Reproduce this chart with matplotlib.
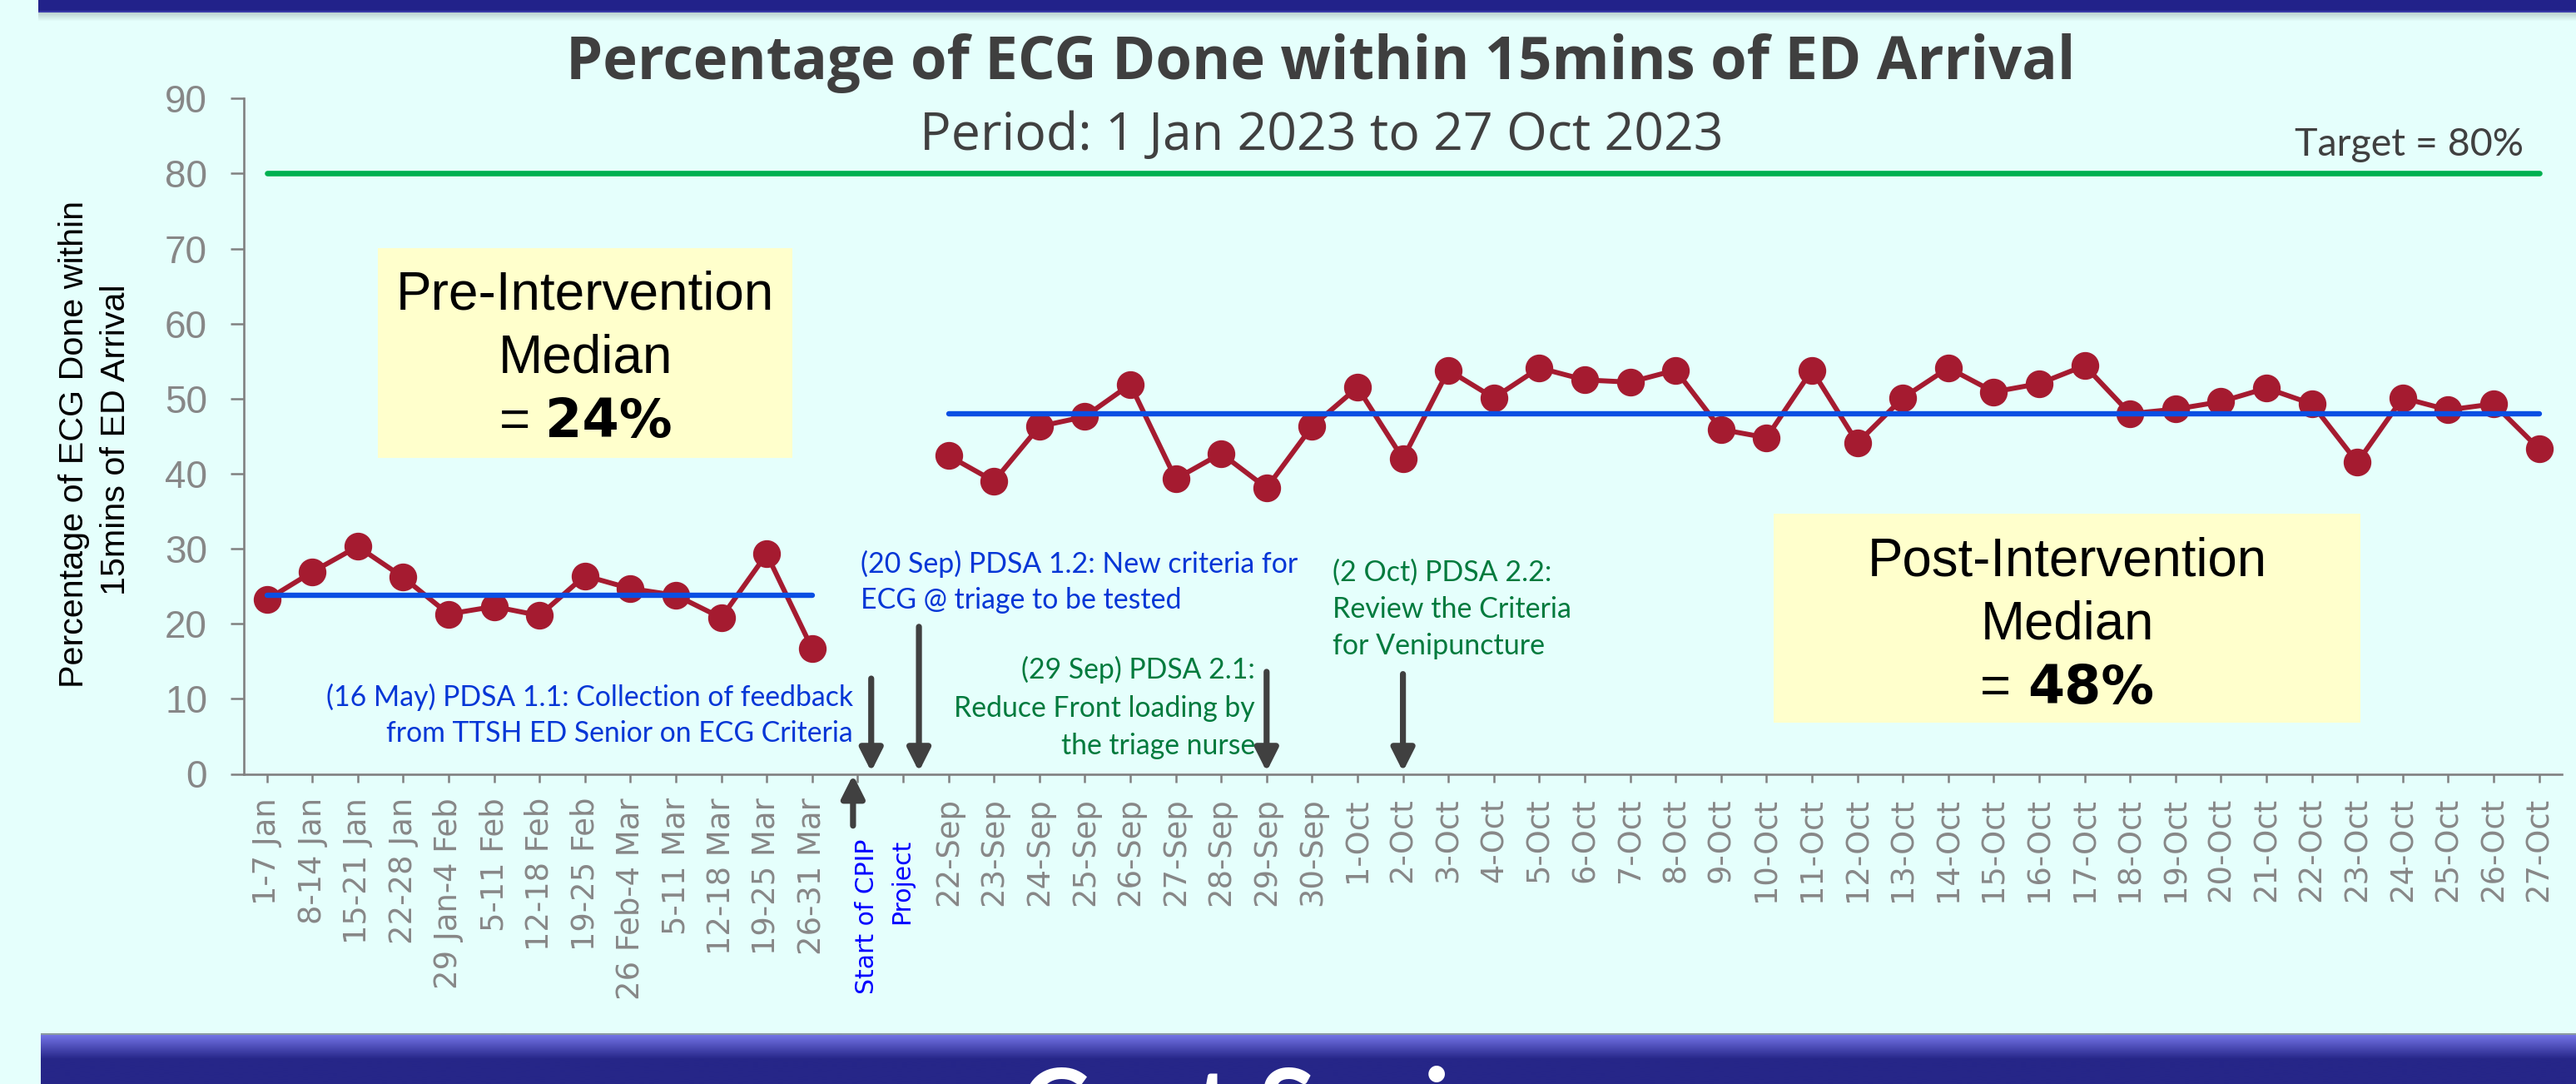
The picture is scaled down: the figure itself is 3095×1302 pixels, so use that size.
import numpy as np
import matplotlib
matplotlib.use('Agg')
import matplotlib.pyplot as plt
from matplotlib.patches import Rectangle

# ---------------- data ----------------
pre_labels = ['1-7 Jan', '8-14 Jan', '15-21 Jan', '22-28 Jan', '29 Jan-4 Feb', '5-11 Feb',
              '12-18 Feb', '19-25 Feb', '26 Feb-4 Mar', '5-11 Mar', '12-18 Mar', '19-25 Mar',
              '26-31 Mar']
pre_values = [23.2, 26.9, 30.3, 26.2, 21.3, 22.3, 21.1, 26.4, 24.7, 23.8, 20.8, 29.3, 16.7]
gap_labels = ['', '']
post_labels = ['22-Sep', '23-Sep', '24-Sep', '25-Sep', '26-Sep', '27-Sep', '28-Sep', '29-Sep',
               '30-Sep', '1-Oct', '2-Oct', '3-Oct', '4-Oct', '5-Oct', '6-Oct', '7-Oct', '8-Oct',
               '9-Oct', '10-Oct', '11-Oct', '12-Oct', '13-Oct', '14-Oct', '15-Oct', '16-Oct',
               '17-Oct', '18-Oct', '19-Oct', '20-Oct', '21-Oct', '22-Oct', '23-Oct', '24-Oct',
               '25-Oct', '26-Oct', '27-Oct']
post_values = [42.4, 39.0, 46.3, 47.6, 51.9, 39.3, 42.7, 38.1, 46.3,
               51.5, 42.0, 53.8, 50.1, 54.1, 52.5, 52.2, 53.8, 45.9,
               44.8, 53.8, 44.1, 50.1, 54.1, 50.9, 52.0, 54.4, 48.0, 48.6,
               49.6, 51.4, 49.3, 41.5, 50.1, 48.5, 49.3, 43.3]
target_value = 80
pre_median = 23.8
post_median = 48.0
y_ticks = [0, 10, 20, 30, 40, 50, 60, 70, 80, 90]

categories = pre_labels + gap_labels + post_labels

# ---------------- style ----------------
W, H, DPI = 3095, 1302, 100
BG = '#E5FFFC'
RED = '#A51B30'
BLUE_LINE = '#0A4FE3'
GREEN_LINE = '#00B050'
GRAY = '#878787'
DARK = '#404040'
TXT_BLUE = '#0536D6'
TXT_GREEN = '#007A3D'
ARROW = '#404040'

fig = plt.figure(figsize=(W / DPI, H / DPI), dpi=DPI, facecolor=BG)


def ftext(x, y, s, **kw):
    return fig.text(x / W, 1 - y / H, s, **kw)


fits = []

# top banner with shadow
for i in range(10):
    fig.add_artist(Rectangle((46 / W, 1 - (16 + i) / H), 1, 1 / H, transform=fig.transFigure,
                             facecolor='#6F8080', alpha=0.35 * (1 - i / 10), edgecolor='none', zorder=0))
fig.add_artist(Rectangle((46 / W, 1 - 15 / H), 1, 15 / H, transform=fig.transFigure,
                         facecolor='#22228A', edgecolor='none', zorder=0))
fig.add_artist(Rectangle((46 / W, 1 - 15 / H), 1, 2 / H, transform=fig.transFigure,
                         facecolor='#3A3AA8', edgecolor='none', zorder=0))

# bottom banner gradient
bb_top = 1241
nrows = H - bb_top
c_top = np.array([0x72, 0x72, 0xE4]) / 255
c_bot = np.array([0x26, 0x26, 0x88]) / 255
grad = np.zeros((nrows, 2, 3))
for r in range(nrows):
    if r < 3:
        grad[r, :] = np.array([0x8A, 0x9A, 0xA0]) / 255
    else:
        t = min(1.0, (r - 3) / 28.0)
        grad[r, :] = c_top * (1 - t) + c_bot * t
ax_b = fig.add_axes([49 / W, 0, (W - 49) / W, nrows / H], zorder=0)
ax_b.imshow(grad, aspect='auto', extent=[0, 1, 0, 1], interpolation='bilinear')
ax_b.set_axis_off()
ftext(1226, 1373, 'Cost Savings', color='white', fontsize=90, family='Lato',
      fontweight='bold', ha='left', va='baseline', zorder=5)

# yellow boxes
fig.add_artist(Rectangle((454 / W, 1 - 550 / H), (952 - 454) / W, (550 - 298) / H,
                         transform=fig.transFigure, facecolor='#FFFFCC', edgecolor='none', zorder=0))
fig.add_artist(Rectangle((2131 / W, 1 - 868 / H), (2836 - 2131) / W, (868 - 617) / H,
                         transform=fig.transFigure, facecolor='#FFFFCC', edgecolor='none', zorder=0))

# ---------------- main axes ----------------
L, R, T, B = 293.2, 3078.0, 118.3, 929.5
ax = fig.add_axes([L / W, 1 - B / H, (R - L) / W, (B - T) / H], zorder=1)
ax.set_facecolor('none')

x = np.arange(len(categories))
pre_x = x[:len(pre_labels)]
post_x = x[len(pre_labels) + len(gap_labels):]

ax.plot([x[0], x[-1]], [target_value, target_value], color=GREEN_LINE, lw=4.8,
        solid_capstyle='round', zorder=2)
ax.plot(pre_x, pre_values, '-o', color=RED, lw=4.3, ms=23, zorder=3)
ax.plot(post_x, post_values, '-o', color=RED, lw=4.3, ms=23, zorder=3)
ax.plot([pre_x[0], pre_x[-1]], [pre_median, pre_median], color=BLUE_LINE, lw=4.6,
        solid_capstyle='round', zorder=4)
ax.plot([post_x[0], post_x[-1]], [post_median, post_median], color=BLUE_LINE, lw=4.6,
        solid_capstyle='round', zorder=4)

ax.set_xlim(-0.5, len(categories) - 0.5)
ax.set_ylim(0, 90)
ax.set_xticks(x)
ax.set_xticklabels(categories, rotation=90, fontsize=26, color=GRAY, family='DejaVu Sans')
ax.set_yticks(y_ticks)
ax.set_yticklabels([str(v) for v in y_ticks], fontsize=33, color=GRAY, family='Liberation Sans')
for s in ['top', 'right']:
    ax.spines[s].set_visible(False)
for s in ['left', 'bottom']:
    ax.spines[s].set_color('#808080')
    ax.spines[s].set_linewidth(1.9)
xpad, ypad = 13.0, 21.0
ax.tick_params(axis='x', direction='out', length=7.2, width=1.8, color='#808080', pad=xpad)
ax.tick_params(axis='y', direction='out', length=11.5, width=1.8, color='#808080', pad=ypad)

# arrows (annotation pointers)
arrow_specs = [(13.3, 12.7, 0.3), (14.35, 19.6, 0.3), (22.0, 13.6, 0.3), (25.0, 13.3, 0.3),
               (12.9, -6.9, -0.15)]
for ax_x, y_from, y_to in arrow_specs:
    ax.annotate('', xy=(ax_x, y_to), xytext=(ax_x, y_from), annotation_clip=False,
                arrowprops=dict(arrowstyle='-|>,head_length=16.5,head_width=8.3',
                                mutation_scale=1, lw=5.2, color=ARROW,
                                shrinkA=0, shrinkB=0), zorder=5)

# ---------------- texts ----------------
t = ftext(1587, 95, 'Percentage of ECG Done within 15mins of ED Arrival', family='Open Sans',
          fontweight='bold', color='#3F3F3F', fontsize=50, ha='center', va='baseline')
fits.append(([t], 1814, 'w'))
t = ftext(1587.5, 180, 'Period: 1 Jan 2023 to 27 Oct 2023', family='Open Sans',
          color=DARK, fontsize=40, ha='center', va='baseline')
fits.append(([t], 965, 'w'))
t = ftext(3032, 187, 'Target = 80%', family='Lato', color=DARK, fontsize=30,
          ha='right', va='baseline')
fits.append(([t], 276, 'w'))

# y label (two lines)
y1 = ftext(100, 533, 'Percentage of ECG Done within', family='Liberation Sans', color='black',
           fontsize=30, rotation=90, rotation_mode='anchor', ha='center', va='baseline')
y2 = ftext(150, 527.8, '15mins of ED Arrival', family='Liberation Sans', color='black',
           fontsize=30, rotation=90, rotation_mode='anchor', ha='center', va='baseline')
fits.append(([y1, y2], 584, 'h'))

# median boxes
box_groups = []
for cx, ys, head, eq_x, num_x, num in [
        (703, (372, 448, 525), 'Pre-Intervention', 637, 655, '24%'),
        (2483.5, (692, 767, 845), 'Post-Intervention', 2416, 2436, '48%')]:
    a = ftext(cx, ys[0], head, family='Liberation Sans', color='black', fontsize=46,
              ha='center', va='baseline', zorder=3)
    b = ftext(cx, ys[1], 'Median', family='Liberation Sans', color='black', fontsize=46,
              ha='center', va='baseline', zorder=3)
    c = ftext(eq_x, ys[2], '=', family='Liberation Sans', color='black', fontsize=46,
              ha='right', va='baseline', zorder=3)
    d = ftext(num_x, ys[2], num, family='DejaVu Sans', fontweight='bold', color='black',
              fontsize=46, ha='left', va='baseline', zorder=3)
    box_groups.append([a, b, c, d])
fits.append((box_groups[0], 454, 'w'))
fits.append((box_groups[1], 480, 'w'))


def block(xp, baselines, lines, ha, color, target):
    ts = [ftext(xp, b, s, family='Lato', color=color, fontsize=22, ha=ha, va='baseline')
          for s, b in zip(lines, baselines)]
    fits.append((ts, target, 'w'))


block(1025, (848, 891), ['(16 May) PDSA 1.1: Collection of feedback',
                         'from TTSH ED Senior on ECG Criteria'], 'right', TXT_BLUE, 634)
block(1034, (688, 731), ['(20 Sep) PDSA 1.2: New criteria for',
                         'ECG @ triage to be tested'], 'left', TXT_BLUE, 525)
block(1508, (815, 861, 906), ['(29 Sep) PDSA 2.1:', 'Reduce Front loading by',
                              'the triage nurse'], 'right', TXT_GREEN, 362)
block(1601, (698, 742, 786), ['(2 Oct) PDSA 2.2:', 'Review the Criteria',
                              'for Venipuncture'], 'left', TXT_GREEN, 287)

# Start of CPIP project label (rotated)
s1 = ftext(1050, 1008, 'Start of CPIP', family='DejaVu Sans', color='#0000FF', fontsize=21,
           rotation=90, rotation_mode='anchor', ha='right', va='baseline')
s2 = ftext(1092, 1008, 'Project', family='DejaVu Sans', color='#0000FF', fontsize=21,
           rotation=90, rotation_mode='anchor', ha='right', va='baseline')
fits.append(([s1, s2], 187, 'h'))

# ---------------- fit text sizes / tick label placement to measured extents ----------------
ref_idx = len(pre_labels) + len(gap_labels)  # '22-Sep' label
for it in range(3):
    fig.canvas.draw()
    rr = fig.canvas.get_renderer()
    for ts, target, dim in fits:
        exts = [tt.get_window_extent(rr) for tt in ts]
        cur = max((e.width if dim == 'w' else e.height) for e in exts)
        f = target / cur
        for tt in ts:
            tt.set_fontsize(tt.get_fontsize() * f)
    xls = ax.get_xticklabels()
    e = xls[ref_idx].get_window_extent(rr)
    fx = 130.0 / e.height
    yls = ax.get_yticklabels()
    ey = yls[-1].get_window_extent(rr)
    for lab in xls:
        lab.set_fontsize(lab.get_fontsize() * fx)
    xpad += (958 - (H - e.y1)) * 72.0 / DPI
    ypad += (ey.x1 - 249) * 72.0 / DPI
    ax.tick_params(axis='x', pad=xpad)
    ax.tick_params(axis='y', pad=ypad)

fig.savefig('out.png', dpi=DPI, facecolor=BG)
